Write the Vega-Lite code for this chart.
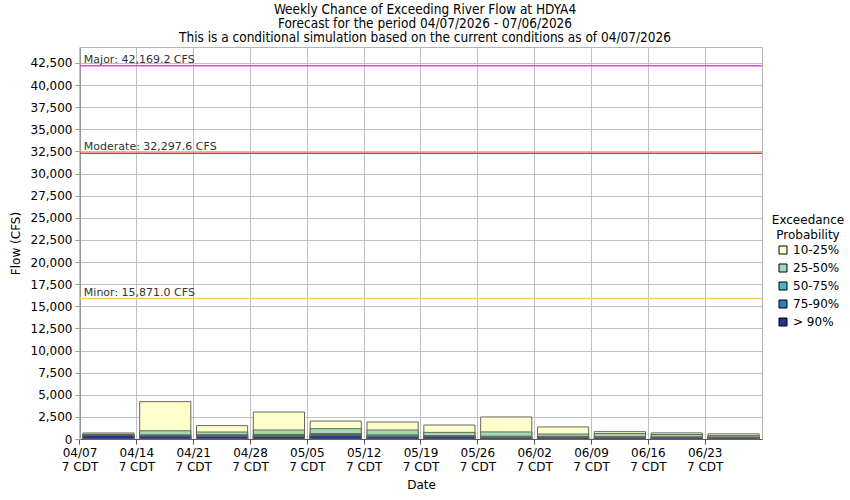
{
  "$schema": "https://vega.github.io/schema/vega-lite/v6.json",
  "width": 682,
  "height": 392,
  "autosize": {"type": "none"},
  "padding": {"left": 80, "top": 47, "right": 88, "bottom": 61},
  "background": "white",
  "config": {
    "font": "DejaVu Sans",
    "view": {"stroke": "#b4b4b4", "strokeWidth": 1}
  },
  "title": {
    "text": [
      "Weekly Chance of Exceeding River Flow at HDYA4",
      "Forecast for the period 04/07/2026 - 07/06/2026",
      "This is a conditional simulation based on the current conditions as of 04/07/2026"
    ],
    "font": "DejaVu Sans Condensed",
    "fontSize": 13.5,
    "fontWeight": "normal",
    "lineHeight": 14,
    "anchor": "middle",
    "frame": "group",
    "offset": 3,
    "dx": 4,
    "color": "#000000"
  },
  "datasets": {
    "flows": [
      {"week": "04/07", "prob": "10-25%", "flow": 680},
      {"week": "04/14", "prob": "10-25%", "flow": 4220},
      {"week": "04/21", "prob": "10-25%", "flow": 1510},
      {"week": "04/28", "prob": "10-25%", "flow": 3050},
      {"week": "05/05", "prob": "10-25%", "flow": 2030},
      {"week": "05/12", "prob": "10-25%", "flow": 1920},
      {"week": "05/19", "prob": "10-25%", "flow": 1580},
      {"week": "05/26", "prob": "10-25%", "flow": 2490},
      {"week": "06/02", "prob": "10-25%", "flow": 1360},
      {"week": "06/09", "prob": "10-25%", "flow": 830},
      {"week": "06/16", "prob": "10-25%", "flow": 690},
      {"week": "06/23", "prob": "10-25%", "flow": 580},
      {"week": "04/07", "prob": "25-50%", "flow": 540},
      {"week": "04/14", "prob": "25-50%", "flow": 930},
      {"week": "04/21", "prob": "25-50%", "flow": 790},
      {"week": "04/28", "prob": "25-50%", "flow": 1020},
      {"week": "05/05", "prob": "25-50%", "flow": 1170},
      {"week": "05/12", "prob": "25-50%", "flow": 1020},
      {"week": "05/19", "prob": "25-50%", "flow": 750},
      {"week": "05/26", "prob": "25-50%", "flow": 800},
      {"week": "06/02", "prob": "25-50%", "flow": 560},
      {"week": "06/09", "prob": "25-50%", "flow": 610},
      {"week": "06/16", "prob": "25-50%", "flow": 500},
      {"week": "06/23", "prob": "25-50%", "flow": 380},
      {"week": "04/07", "prob": "50-75%", "flow": 490},
      {"week": "04/14", "prob": "50-75%", "flow": 470},
      {"week": "04/21", "prob": "50-75%", "flow": 480},
      {"week": "04/28", "prob": "50-75%", "flow": 520},
      {"week": "05/05", "prob": "50-75%", "flow": 610},
      {"week": "05/12", "prob": "50-75%", "flow": 460},
      {"week": "05/19", "prob": "50-75%", "flow": 390},
      {"week": "05/26", "prob": "50-75%", "flow": 320},
      {"week": "06/02", "prob": "50-75%", "flow": 300},
      {"week": "06/09", "prob": "50-75%", "flow": 260},
      {"week": "06/16", "prob": "50-75%", "flow": 240},
      {"week": "06/23", "prob": "50-75%", "flow": 220},
      {"week": "04/07", "prob": "75-90%", "flow": 460},
      {"week": "04/14", "prob": "75-90%", "flow": 400},
      {"week": "04/21", "prob": "75-90%", "flow": 430},
      {"week": "04/28", "prob": "75-90%", "flow": 430},
      {"week": "05/05", "prob": "75-90%", "flow": 500},
      {"week": "05/12", "prob": "75-90%", "flow": 330},
      {"week": "05/19", "prob": "75-90%", "flow": 330},
      {"week": "05/26", "prob": "75-90%", "flow": 230},
      {"week": "06/02", "prob": "75-90%", "flow": 240},
      {"week": "06/09", "prob": "75-90%", "flow": 210},
      {"week": "06/16", "prob": "75-90%", "flow": 200},
      {"week": "06/23", "prob": "75-90%", "flow": 180},
      {"week": "04/07", "prob": "> 90%", "flow": 430},
      {"week": "04/14", "prob": "> 90%", "flow": 330},
      {"week": "04/21", "prob": "> 90%", "flow": 320},
      {"week": "04/28", "prob": "> 90%", "flow": 280},
      {"week": "05/05", "prob": "> 90%", "flow": 380},
      {"week": "05/12", "prob": "> 90%", "flow": 250},
      {"week": "05/19", "prob": "> 90%", "flow": 260},
      {"week": "05/26", "prob": "> 90%", "flow": 170},
      {"week": "06/02", "prob": "> 90%", "flow": 180},
      {"week": "06/09", "prob": "> 90%", "flow": 160},
      {"week": "06/16", "prob": "> 90%", "flow": 150},
      {"week": "06/23", "prob": "> 90%", "flow": 140}
    ],
    "thresholds": [
      {"level": "Major", "flow": 42169.2, "label": "Major: 42,169.2 CFS"},
      {"level": "Moderate", "flow": 32297.6, "label": "Moderate: 32,297.6 CFS"},
      {"level": "Minor", "flow": 15871.0, "label": "Minor: 15,871.0 CFS"}
    ]
  },
  "encoding": {
    "y": {
      "field": "flow",
      "type": "quantitative",
      "stack": null,
      "scale": {"domain": [0, 44300], "nice": false},
      "axis": {
        "title": "Flow (CFS)",
        "values": [0, 2500, 5000, 7500, 10000, 12500, 15000, 17500, 20000, 22500, 25000, 27500, 30000, 32500, 35000, 37500, 40000, 42500],
        "format": ",d",
        "labelOverlap": false,
        "labelFontSize": 12,
        "labelColor": "#000000",
        "grid": true,
        "gridColor": "#c0c0c0",
        "domainColor": "#999999",
        "tickColor": "#999999",
        "tickSize": 5,
        "labelPadding": 3,
        "titleFontSize": 12,
        "titleFontWeight": "normal",
        "titleColor": "#000000",
        "titlePadding": 8
      }
    }
  },
  "layer": [
    {
      "data": {"name": "flows"},
      "mark": {"type": "bar", "stroke": "#66665a", "strokeWidth": 1},
      "encoding": {
        "x": {
          "field": "week",
          "type": "nominal",
          "sort": null,
          "scale": {
            "domain": ["04/07", "04/14", "04/21", "04/28", "05/05", "05/12", "05/19", "05/26", "06/02", "06/09", "06/16", "06/23"],
            "paddingInner": 0.1,
            "paddingOuter": 0.05
          },
          "axis": {
            "title": "Date",
            "bandPosition": -0.0556,
            "labelExpr": "[datum.value, '7 CDT']",
            "labelAngle": 0,
            "labelOffset": -28.4,
            "labelOverlap": false,
            "labelFontSize": 12,
            "labelLineHeight": 14,
            "labelColor": "#000000",
            "labelPadding": 3,
            "grid": true,
            "gridColor": "#c0c0c0",
            "domainColor": "#555555",
            "tickColor": "#555555",
            "tickSize": 5,
            "titleFontSize": 12,
            "titleFontWeight": "normal",
            "titleColor": "#000000",
            "titlePadding": 7
          }
        },
        "color": {
          "field": "prob",
          "type": "nominal",
          "scale": {
            "domain": ["10-25%", "25-50%", "50-75%", "75-90%", "> 90%"],
            "range": ["#ffffcc", "#a1dab4", "#41b6c4", "#2c7fb8", "#253494"]
          },
          "legend": {
            "title": ["Exceedance", "Probability"],
            "orient": "none",
            "legendX": 692,
            "legendY": 168,
            "symbolType": "square",
            "symbolSize": 64,
            "symbolStrokeColor": "#000000",
            "symbolStrokeWidth": 1,
            "labelFontSize": 12,
            "labelColor": "#000000",
            "titleFontSize": 12,
            "titleFontWeight": "normal",
            "titleColor": "#000000",
            "titleAlign": "center",
            "titleAnchor": "middle",
            "titleLineHeight": 15,
            "titlePadding": 2,
            "rowPadding": 6
          }
        },
        "order": {"field": "flow", "type": "quantitative", "sort": "descending"}
      }
    },
    {
      "data": {"name": "thresholds"},
      "mark": {"type": "rule", "strokeWidth": 1.5},
      "encoding": {
        "stroke": {
          "field": "level",
          "type": "nominal",
          "scale": {"domain": ["Major", "Moderate", "Minor"], "range": ["#ff33ff", "#dd3b3b", "#f7d154"]},
          "legend": null
        }
      }
    },
    {
      "data": {"name": "thresholds"},
      "mark": {"type": "text", "align": "left", "baseline": "alphabetic", "dx": 1, "dy": -3, "fontSize": 11, "color": "#333333"},
      "encoding": {
        "x": {"datum": "04/07", "type": "nominal", "bandPosition": 0},
        "text": {"field": "label", "type": "nominal"}
      }
    }
  ]
}
